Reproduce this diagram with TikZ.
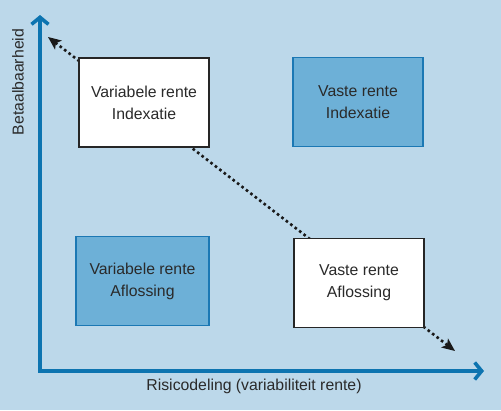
\documentclass[tikz,border=0pt]{standalone}
\usepackage{fontspec}
\setmainfont{Liberation Sans}
\usetikzlibrary{arrows.meta}
\definecolor{bgblue}{HTML}{BCD8EA}
\definecolor{boxblue}{HTML}{6DB0D7}
\definecolor{edgeblue}{HTML}{1B78B4}
\definecolor{axisblue}{HTML}{0D74B0}
\definecolor{txt}{HTML}{2A2A2A}
\tikzset{
  box/.style={rectangle, minimum width=130pt, minimum height=89pt, align=center,
    font=\fontsize{15.8}{22}\selectfont, text=txt, inner sep=0pt},
  whitebox/.style={box, fill=white, draw=black!85, line width=1.8pt},
  bluebox/.style={box, fill=boxblue, draw=edgeblue, line width=1.4pt},
  axis/.style={draw=axisblue, line width=3.6pt, line join=miter,
    arrows={Straight Barb[length=7pt,width=17pt,line width=3.6pt]-Straight Barb[length=7pt,width=17pt,line width=3.6pt]}},
  diag/.style={draw=black!90, line width=2.6pt, dash pattern=on 2.6pt off 3pt,
    arrows={Stealth[length=13pt,width=11pt,inset=3pt]-Stealth[length=13pt,width=11pt,inset=3pt]}},
  lbl/.style={font=\fontsize{15.8}{18}\selectfont, text=txt, inner sep=0pt}
}
\begin{document}
\begin{tikzpicture}[x=1pt,y=-1pt]
\fill[bgblue] (0,0) rectangle (501,410);
\useasboundingbox (0,0) rectangle (501,410);
\coordinate (ytip) at (40,15);
\coordinate (orig) at (40,371);
\coordinate (xtip) at (484,371);
\coordinate (dA) at (48,37);
\coordinate (dB) at (455,351);
\draw[axis] (ytip) -- (orig) -- (xtip);
\draw[diag] (dA) -- (dB);
\node[whitebox] (vi) at (144,102.5) {Variabele rente\\Indexatie};
\node[bluebox] (fi) at (358,102) {Vaste rente\\Indexatie};
\node[bluebox, minimum width=133pt] (va) at (142.5,281) {Variabele rente\\Aflossing};
\node[whitebox] (fa) at (359,283) {Vaste rente\\Aflossing};
\node[lbl, rotate=90] (ylab) at (18,82) {Betaalbaarheid};
\node[lbl] (xlab) at (254,386) {Risicodeling (variabiliteit rente)};
\end{tikzpicture}
\end{document}
